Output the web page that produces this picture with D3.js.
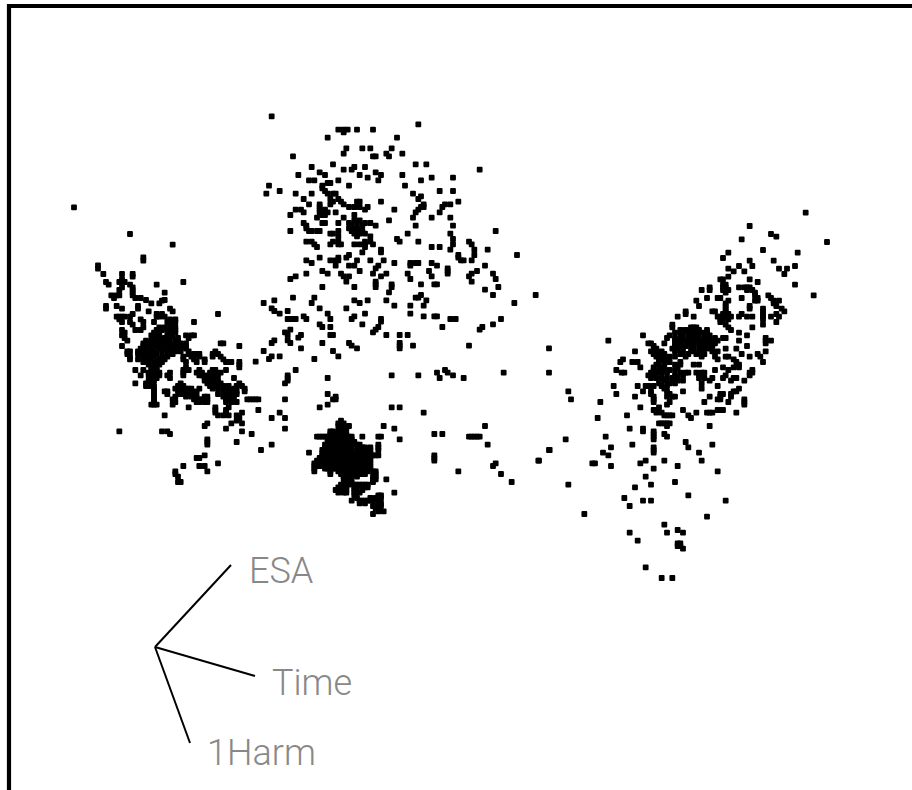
<!DOCTYPE html>
<html><head><meta charset="utf-8">
<script src="https://cdn.jsdelivr.net/npm/d3@7"></script>
<style>html,body{margin:0;padding:0;background:#fff}svg{display:block}</style>
</head><body>
<svg id="c" width="912" height="790"></svg>
<script>
// Point readings, one list per picture region, in that region's own reading units.
const leftPoints = [[42,22],[210,102],[338,134],[250,172],[250,182],[114,196],[114,206],[130,222],[186,222],[218,222],[218,230],[138,246],[146,254],[186,238],[178,246],[194,246],[370,246],[290,254],[210,254],[218,262],[186,262],[178,270],[218,270],[314,278],[170,286],[154,286],[162,294],[178,286],[218,278],[218,286],[226,294],[242,294],[258,300],[274,310],[306,302],[314,300],[298,310],[138,318],[138,326],[170,318],[186,326],[234,318],[234,326],[266,334],[330,326],[338,334],[474,342],[218,342],[210,350],[170,350],[178,350],[186,350],[194,350],[178,358],[186,366],[290,342],[306,342],[298,350],[290,350],[314,350],[346,358],[330,358],[322,366],[338,370],[346,366],[282,366],[242,358],[250,366],[210,366],[218,374],[402,366],[250,382],[242,390],[226,390],[186,390],[194,398],[186,406],[194,414],[202,422],[186,438],[546,638],[530,646],[466,638],[474,646],[490,646],[506,646],[498,638],[538,654],[314,646],[442,670],[434,678],[514,670],[530,662],[546,670],[498,686],[546,694],[178,694],[306,694],[322,694],[330,702],[442,718],[442,726],[442,734],[530,726],[410,774],[418,774],[434,766],[418,798],[434,798],[442,814],[370,798],[474,790],[346,814],[346,822],[354,830],[354,846],[362,846]];
const leftRows = [
[382,[298,314,330,346]],[390,[290,306,322,338,346]],[398,[282,298,330,346]],[406,[274,290,322,338,378,394,402]],[414,[282,298,314,330,354,386]],[422,[258,274,290,306,322,346,354]],[430,[250,266,282,298,314,330,346,362,378,482,490]],[438,[250,274,290,306,322,338,354,370,378,538]],[446,[242,258,274,298,314,330,354,378]],[454,[202,210,234,250,266,282,306,330,346,362,386,466]],[462,[202,234,242,258,274,290,322,338,386,402,410,418,458,474]],[470,[210,250,266,282,306,322,370,394,418,458,482]],[478,[210,234,250,266,274,298,314,370,402,434,490]],[486,[250,266,290,306,378,410,434,498,506,514,538]],[494,[266,282,298,538]],[502,[274,290,378,538]],[510,[226,250,274,290,370,378,386,418,458,466,498]],[518,[266,282,298,330,370,410,426,450,466,482]],[526,[242,266,282,298,322,370,418,426,434,450,474]],[534,[274,290,330,434,442,458,466,522]],[542,[266,282,434,442,450,458,474]],[550,[226,258,274,362,442,458,466,482,538]],[558,[258,266,282,354,370,450,466,490,506,530,546]],[566,[282,346,362,378,386,394,418,458,474,490,506,522,554]],[574,[282,314,322,354,370,378,394,410,490,498,514,530,554]],[582,[282,322,362,378,394,402,474,490,498,514,530]],[590,[282,346,378,394,410,434,442,490,506,522]],[598,[282,338,402,418,426,434,442,498,506,514,562,570]],[606,[282,346,410,418,434,442,498,514,530]],[614,[274,282,290,338]],[622,[386,466,506]],[630,[466,498]]];
const topPoints = [[65,49],[505,73],[265,89],[281,89],[293,89],[281,97],[321,89],[369,89],[233,113],[441,113],[289,145],[281,161],[337,145],[361,145],[425,145],[409,161],[417,169],[457,161],[369,169],[377,169],[129,169],[249,193],[497,193],[529,193],[185,201],[345,201],[313,201],[305,209],[281,209],[689,209],[209,217],[225,225],[377,217],[393,225],[385,241],[145,225],[329,225],[353,233],[457,225],[513,241],[545,233],[609,233],[177,241],[193,241],[241,249],[233,249],[265,241],[217,257],[57,257],[297,257],[465,257],[217,265],[225,273],[89,273],[49,281],[137,281],[185,281],[233,281],[249,281],[257,281],[569,273],[609,273],[489,281],[513,289],[505,297],[241,297],[161,297],[265,297],[273,305],[249,305],[393,305],[625,305],[321,305],[329,305],[177,313],[209,313],[241,313],[281,313],[297,321],[313,321],[329,321],[353,321],[601,313],[585,313],[521,313],[521,321],[513,321],[505,329],[577,321],[433,329],[137,329],[153,329],[209,321],[209,329],[225,329],[257,337],[345,329],[161,337],[209,337],[233,337],[217,345],[225,345],[497,337],[569,337],[121,345],[313,345],[201,353],[281,353],[489,353],[545,353],[601,353],[417,361],[161,369],[217,369],[225,369],[265,369],[297,369],[313,361],[329,361],[345,369],[361,369],[377,377],[609,377],[497,377],[169,377],[305,377],[321,369],[337,377],[121,393],[169,385],[177,393],[185,393],[201,393],[209,393],[297,385],[313,385],[329,385],[305,393],[321,393],[337,393],[737,393],[241,401],[249,401],[265,393],[473,401],[313,401],[329,401],[345,401],[601,401],[265,409],[321,409],[361,409],[441,417],[449,425],[505,425],[609,417],[169,425],[185,425],[193,433],[201,441],[241,433],[249,425],[265,425],[273,433],[265,433],[313,433],[329,433],[345,425],[345,433],[361,425],[369,433],[545,441],[569,441],[609,433],[601,449],[657,425],[665,433],[713,449],[345,441],[337,457],[393,449],[393,457],[673,449],[673,465],[801,465],[625,465],[625,473],[633,481],[641,481],[665,481],[209,473],[265,473],[297,465],[289,473],[169,481],[185,489],[241,481],[257,481],[265,481],[361,481],[401,481],[321,481],[433,489],[481,489],[497,489],[505,489],[545,489],[561,497],[257,497],[297,497],[313,497],[385,497],[377,505],[481,497],[705,497],[593,505],[593,513],[593,521],[537,513],[217,513],[233,521],[169,521],[273,521],[281,529],[297,529],[329,513],[369,521],[409,521],[393,529],[473,521],[681,513],[665,521],[657,529],[545,529],[729,521],[737,537],[137,529],[121,537],[289,545],[377,545],[377,553],[377,561],[481,537],[665,545],[217,561],[313,561],[425,553],[425,561],[513,553],[553,553],[561,553],[745,561],[417,577],[705,569],[729,585],[857,585],[513,585],[497,593],[505,593],[129,593],[193,593],[73,601],[41,609],[185,609],[313,601],[329,609],[353,601],[409,601],[529,601],[521,617],[793,609],[481,617],[433,617],[65,625],[73,633],[89,641],[113,633],[209,625],[289,625],[233,641],[345,641],[481,641],[521,649],[553,649],[561,649],[241,657],[161,649],[169,657],[113,657],[121,657],[129,657],[137,657],[313,649],[305,657],[601,657],[617,657],[753,657],[393,657],[393,665],[209,673],[217,681],[241,681],[337,673],[729,673],[577,681],[697,681],[689,689],[385,681],[377,689],[369,697],[121,689],[105,697],[113,705],[153,705],[145,713],[241,705],[249,705],[409,705],[449,705],[473,705],[73,721],[65,729],[113,721],[121,729],[217,729],[297,729],[305,737],[321,745],[449,729],[449,737],[449,745],[489,737],[657,737],[153,745],[249,753],[41,753],[265,769],[65,769],[57,777],[89,769],[193,777],[17,785],[897,745]];
const midPoints = [[137,30],[113,46],[113,54],[105,70],[113,62],[233,54],[425,46],[505,46],[561,38],[569,54],[585,30],[593,38],[609,46],[641,54],[761,38],[897,38],[17,118],[25,118],[9,118],[105,118],[233,102],[257,110],[249,118],[257,118],[233,134],[209,142],[25,150],[89,158],[65,174],[105,174],[105,206],[425,142],[449,142],[521,158],[401,198],[433,206],[337,230],[385,230],[393,230],[449,238],[385,254],[385,262],[385,270],[377,286],[385,286],[553,222],[577,222],[657,230],[665,230],[673,230],[681,230],[689,230],[705,198],[713,254],[553,286],[553,294],[553,302],[865,302],[897,270],[625,334],[737,310],[729,318],[753,342],[785,366],[409,358],[433,398],[177,278],[65,254],[33,270],[5,222]];
const blobRows = [
[182,[273]],[190,[265,281]],[198,[265,273,281,297]],[206,[273,289]],[214,[241,249,265,281]],[222,[241,249,257,265,273,281,289]],[230,[201,209,217,225,233,241,249,257,265,273,281,289,297,305]],[238,[233,241,249,257,265,273,281,289,297,305]],[246,[233,241,249,257,265,273,281,289,297,305,313]],[254,[225,233,241,249,257,265,273,281,289,297,305,321,329]],[262,[225,233,241,249,257,265,273,281,289,297,305,337,345,361]],[270,[217,225,233,241,249,257,265,273,281,289,297,321,329,337,345,353,361]],[278,[217,225,233,241,249,257,265,273,281,289,297,305,321,329,337,345,353,361]],[286,[217,225,233,241,249,257,265,273,281,289,297,305,313,321,329,337,345,353,361,369]],[294,[209,217,225,233,241,249,257,265,273,281,289,297,305,313,321,329,337,345,353,361]],[302,[201,209,217,225,233,241,249,257,265,273,281,289,297,313,321,329,337,345,353,361]],[310,[193,201,209,217,225,233,241,249,257,265,273,281,289,297,305,313,321,329,337,345,353,361]],[318,[193,201,209,225,233,241,249,257,265,273,281,289,297,305,313,321,329,337,345,353,361]],[326,[193,225,233,241,249,257,265,273,281,289,297,305,313,321,329,337,345,353,361]],[334,[193,241,265,273,281,289,297,321,329,337,345,353,369,377]],[342,[241,273,281,289,297,313,329,337,345,377]],[350,[281,289,297,305,321,369,377]],[358,[281,289,297,369,377]],[366,[297,305,369]],[374,[273,281,289,297,313,321,329,337,345,353]],[382,[265,273,281,289,313,321,345,353]],[390,[257,265,273,281,289,313,337]],[398,[265,281,289,313,329]],[406,[313,385,393]],[414,[321,361,377,393]],[422,[305,329,337,345,353,361,369,385]],[430,[329,345,393]],[438,[369,377,385,393]],[446,[377,385]],[454,[385,401]],[462,[369]]];
const rightPoints = [[647,38],[479,78],[543,102],[559,110],[455,118],[711,126],[519,150],[623,158],[415,158],[399,174],[551,182],[479,182],[487,198],[447,198],[615,198],[567,206],[591,206],[415,206],[431,214],[463,214],[583,222],[415,230],[399,238],[391,238],[479,238],[503,246],[615,254],[399,254],[407,254],[447,262],[463,262],[471,262],[479,262],[335,270],[359,262],[359,270],[399,262],[407,262],[399,270],[407,270],[415,270],[471,270],[487,270],[495,278],[407,278],[671,286],[351,294],[383,294],[391,294],[455,294],[495,286],[503,294],[503,302],[495,302],[535,286],[543,294],[319,302],[415,302],[551,302],[567,302],[327,318],[407,310],[407,318],[479,318],[479,326],[519,326],[551,310],[559,318],[575,326],[583,334],[367,334],[375,334],[407,326],[407,334],[399,342],[415,342],[287,334],[287,342],[455,342],[447,350],[471,350],[487,350],[519,334],[519,342],[519,350],[543,350],[559,342],[567,350],[263,350],[311,350],[383,350],[391,350],[399,350],[407,350],[415,350],[423,350],[391,358],[399,358],[415,358],[519,358],[559,366],[519,374],[247,374],[391,366],[407,374],[271,390],[247,382],[303,382],[311,382],[319,382],[487,382],[415,382],[423,390],[287,390],[303,390],[319,390],[327,390],[351,390],[255,398],[271,398],[447,398],[295,398],[311,398],[335,398],[351,398],[159,406],[239,406],[279,406],[303,406],[319,406],[343,406],[359,406],[471,406],[407,414],[55,422],[231,414],[255,414],[271,414],[295,414],[311,414],[327,414],[351,414],[375,414],[399,414],[447,422],[527,414],[527,422],[543,422],[175,430],[183,430],[223,430],[255,422],[271,422],[287,422],[303,422],[319,422],[335,422],[351,422],[367,422],[383,422],[527,430],[471,438],[135,454],[191,438],[199,446],[255,430],[271,430],[295,430],[311,430],[327,430],[343,430],[359,430],[375,430],[407,446],[439,446],[255,438],[271,438],[287,438],[311,438],[335,438],[351,438],[367,438],[183,454],[199,454],[215,454],[247,446],[263,446],[303,446],[327,446],[343,446],[359,446],[455,462],[503,462],[527,454],[191,462],[207,462],[223,462],[255,454],[279,454],[311,454],[335,454],[367,454],[383,454],[407,470],[415,470],[479,470],[511,470],[99,478],[91,486],[127,486],[143,486],[199,470],[215,470],[239,470],[271,462],[295,462],[319,462],[343,462],[375,470],[431,478],[519,486],[151,502],[207,478],[223,478],[255,470],[287,470],[335,470],[207,486],[239,486],[271,486],[311,494],[327,494],[383,478],[439,486],[447,494],[399,502],[199,494],[223,494],[215,502],[191,502],[255,494],[271,494],[79,510],[95,518],[103,518],[375,510],[447,502],[431,502],[191,510],[207,510],[223,510],[239,510],[255,510],[263,502],[319,518],[335,518],[343,518],[415,510],[487,510],[479,518],[487,518],[183,518],[199,518],[215,518],[231,518],[271,518],[287,518],[295,518],[407,526],[399,534],[479,526],[175,526],[191,526],[255,526],[279,526],[327,526],[343,534],[367,534],[183,534],[199,534],[215,534],[231,534],[247,534],[263,534],[327,534],[439,534],[431,534]];
const lowerRightPoints = [[145,34],[153,58],[241,66],[233,114],[281,18],[289,42],[353,18],[345,50],[369,34],[377,18],[385,18],[393,42],[401,18],[393,34],[401,50],[401,58],[401,66],[417,10],[425,18],[433,2],[433,26],[441,18],[449,10],[457,2],[465,10],[473,2],[489,2],[441,34],[449,42],[441,50],[457,50],[465,50],[449,66],[441,74],[489,34],[545,10],[545,26],[569,2],[593,18],[633,2],[673,2],[569,50],[553,66],[601,42],[609,42],[601,50],[593,58],[601,58],[641,34],[633,42],[657,26],[649,34],[633,50],[625,66],[673,58],[673,66],[673,74],[361,82],[321,106],[401,90],[409,90],[417,82],[409,98],[425,98],[433,106],[441,106],[449,106],[457,106],[489,90],[505,106],[513,114],[529,98],[561,98],[569,98],[577,98],[593,90],[601,90],[609,90],[649,98],[417,130],[425,130],[433,130],[441,130],[449,130],[441,138],[569,138],[329,146],[369,146],[369,154],[401,154],[401,162],[401,170],[401,178],[433,162],[441,170],[257,170],[137,178],[89,210],[57,242],[273,202],[337,194],[401,202],[401,210],[401,218],[497,186],[505,202],[577,194],[537,218],[249,218],[265,226],[545,242],[217,250],[225,250],[273,258],[377,242],[361,250],[433,242],[401,266],[473,258],[593,274],[377,290],[145,314],[345,322],[393,314],[465,306],[505,346],[313,354],[369,362],[393,362],[329,378],[617,362],[193,402],[561,410],[433,434],[329,458],[441,458],[473,450],[489,458],[353,482],[473,490],[481,490],[473,498],[481,498],[489,506],[377,562],[425,594],[457,594]];
const axisNames = ["ESA","Time","1Harm"];
const axisEnds = [[231,565],[255,676],[190,743]];
const axisOrigin = [155,647];
const labelAnchors = [[249,583],[272,695],[207,765]];

const expand = rows => rows.flatMap(([y,xs]) => xs.map(x => [x,y]));
// each reading region maps onto its own part of the page
const regions = [
  {pts: leftPoints.concat(expand(leftRows)), x:[60,280], y:[200,500], w:660, h:900},
  {pts: topPoints, x:[250,550], y:[100,370], w:900, h:810},
  {pts: midPoints.concat(expand(blobRows)), x:[250,550], y:[360,530], w:900, h:510},
  {pts: rightPoints, x:[590,840], y:[200,420], w:750, h:660},
  {pts: lowerRightPoints, x:[520,760], y:[380,590], w:720, h:630}
];
const svg = d3.select("#c");
svg.append("defs").append("filter").attr("id","soft")
  .attr("x","-5%").attr("y","-5%").attr("width","110%").attr("height","110%")
  .append("feGaussianBlur").attr("stdDeviation",0.5);
// frame
svg.append("path").attr("d","M9,790V6H912").attr("fill","none").attr("stroke","#000").attr("stroke-width",4.2);
const size = 5.8;
const dots = svg.append("g").attr("filter","url(#soft)");
regions.forEach(r => {
  const sx = d3.scaleLinear().domain([0,r.w]).range(r.x);
  const sy = d3.scaleLinear().domain([0,r.h]).range(r.y);
  dots.selectAll(null).data(r.pts).join("rect")
    .attr("x", d => sx(d[0]) - size/2).attr("y", d => sy(d[1]) - size/2)
    .attr("width", size).attr("height", size).attr("rx", 1).attr("fill", "#000");
});
// axis tripod
svg.append("g").attr("filter","url(#soft)").selectAll("line").data(axisEnds).join("line")
  .attr("x1", axisOrigin[0]).attr("y1", axisOrigin[1])
  .attr("x2", d => d[0]).attr("y2", d => d[1])
  .attr("stroke", "#000").attr("stroke-width", 2);
svg.append("g").selectAll("text").data(axisNames).join("text")
  .attr("x", (d,i) => labelAnchors[i][0]).attr("y", (d,i) => labelAnchors[i][1])
  .attr("font-family", "Roboto, 'Liberation Sans', Arial, sans-serif").attr("font-weight", 300).attr("font-size", 36)
  .attr("fill", "#888").text(d => d);
</script>
</body></html>
